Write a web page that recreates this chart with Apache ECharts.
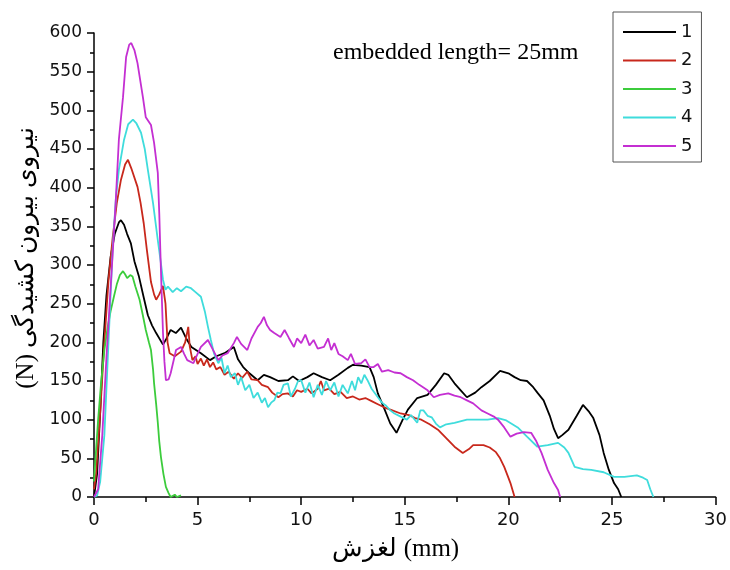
<!DOCTYPE html>
<html>
<head>
<meta charset="utf-8">
<script src="https://cdn.jsdelivr.net/npm/echarts@6/dist/echarts.min.js"></script>
<style>html,body{margin:0;padding:0;background:#fff;}#c{width:730px;height:570px;}</style>
</head>
<body>
<div id="c"></div>
<script>
const seriesNames = ['1', '2', '3', '4', '5'];
const xTicks = [0, 5, 10, 15, 20, 25, 30];
const yTicks = [0, 50, 100, 150, 200, 250, 300, 350, 400, 450, 500, 550, 600];
const xTitle = 'لغزش (mm)';
const yTitle = '(N) نیروی بیرون کشیدگی';
const note = 'embedded length= 25mm';

const s1 = [[0,0],[0.15,30],[0.3,110],[0.45,200],[0.6,260],[0.8,310],[1.0,340],[1.2,355],[1.3,358],[1.45,352],[1.6,340],[1.78,328],[1.95,305],[2.17,285],[2.4,258],[2.6,235],[2.8,222],[3.0,212],[3.33,197],[3.5,205],[3.7,216],[3.95,212],[4.2,219],[4.45,205],[4.7,194],[5.16,186],[5.6,177],[5.9,182],[6.3,186],[6.75,194],[6.95,178],[7.2,168],[7.5,160],[7.9,151],[8.2,158],[8.5,155],[8.9,150],[9.36,151],[9.6,156],[9.9,150],[10.3,155],[10.6,160],[11.0,155],[11.4,151],[11.8,158],[12.25,167],[12.5,171],[12.9,170],[13.3,168],[13.5,155],[13.7,134],[14.0,115],[14.3,95],[14.6,83],[14.9,100],[15.15,113],[15.6,128],[16.1,132],[16.5,145],[16.9,160],[17.1,158],[17.4,147],[17.7,138],[18.0,129],[18.4,135],[18.7,142],[19.1,150],[19.6,163],[20.0,160],[20.3,155],[20.6,151],[20.9,150],[21.2,142],[21.4,135],[21.7,125],[22.0,105],[22.2,88],[22.4,76],[22.6,80],[22.9,87],[23.3,105],[23.6,119],[23.9,110],[24.1,102],[24.4,80],[24.6,57],[24.85,35],[25.1,18],[25.3,10],[25.45,0]];

const s2 = [[0,10],[0.1,30],[0.3,110],[0.5,200],[0.7,280],[0.9,335],[1.1,380],[1.3,410],[1.5,430],[1.64,436],[1.8,425],[2.1,401],[2.25,380],[2.4,354],[2.55,320],[2.75,278],[2.9,262],[3.0,255],[3.15,262],[3.33,273],[3.45,250],[3.55,200],[3.65,186],[3.9,182],[4.2,188],[4.4,200],[4.55,220],[4.62,195],[4.75,177],[4.9,182],[5.0,172],[5.16,179],[5.3,170],[5.45,178],[5.6,168],[5.75,174],[5.9,165],[6.1,168],[6.3,158],[6.5,162],[6.75,153],[6.95,160],[7.15,154],[7.4,162],[7.6,152],[7.9,151],[8.1,145],[8.4,142],[8.6,135],[8.9,129],[9.1,133],[9.35,134],[9.6,130],[9.8,138],[10.0,136],[10.3,140],[10.5,134],[10.8,140],[10.95,150],[11.1,138],[11.35,140],[11.6,133],[11.9,136],[12.2,128],[12.5,130],[12.8,126],[13.1,128],[13.4,124],[13.7,120],[14.0,116],[14.4,112],[14.8,108],[15.2,106],[15.5,102],[15.8,100],[16.2,94],[16.6,87],[17.0,76],[17.4,65],[17.8,57],[18.1,62],[18.3,67],[18.8,67],[19.1,64],[19.4,58],[19.6,50],[19.8,39],[20.0,25],[20.1,18],[20.3,0]];

const s3 = [[0,20],[0.1,61],[0.2,100],[0.34,147],[0.5,190],[0.66,220],[0.8,240],[0.96,259],[1.1,275],[1.25,287],[1.4,292],[1.5,288],[1.6,283],[1.75,287],[1.86,285],[2.0,272],[2.2,255],[2.35,236],[2.5,216],[2.65,200],[2.75,190],[2.85,165],[2.9,147],[3.0,120],[3.08,96],[3.15,72],[3.23,52],[3.35,30],[3.47,13],[3.6,5],[3.7,0],[3.9,3],[4.0,0],[4.2,2]];

const s4 = [[0,0],[0.15,2],[0.3,20],[0.5,80],[0.7,200],[0.9,320],[1.06,388],[1.2,423],[1.45,462],[1.65,482],[1.88,488],[2.05,483],[2.27,471],[2.45,450],[2.6,423],[2.85,380],[3.08,332],[3.23,302],[3.33,281],[3.45,268],[3.57,272],[3.8,265],[4.0,270],[4.2,266],[4.45,272],[4.68,270],[4.9,265],[5.16,259],[5.35,240],[5.5,220],[5.64,203],[5.8,185],[6.0,173],[6.15,180],[6.3,160],[6.45,170],[6.6,155],[6.8,160],[6.95,145],[7.1,155],[7.3,138],[7.5,145],[7.7,128],[7.9,135],[8.1,122],[8.25,128],[8.4,116],[8.55,122],[8.7,125],[8.85,135],[9.0,134],[9.15,145],[9.36,147],[9.5,130],[9.7,140],[9.85,150],[10.0,151],[10.2,135],[10.4,148],[10.6,129],[10.8,145],[11.0,132],[11.2,150],[11.4,138],[11.6,148],[11.8,130],[12.0,145],[12.25,134],[12.45,150],[12.6,138],[12.75,155],[12.9,147],[13.05,158],[13.2,151],[13.4,140],[13.7,129],[13.9,122],[14.1,118],[14.3,112],[14.5,108],[14.8,104],[15.1,100],[15.3,106],[15.6,96],[15.75,112],[15.9,112],[16.1,105],[16.3,103],[16.5,95],[16.7,90],[17.0,94],[17.4,96],[18.0,100],[18.5,100],[19.0,100],[19.5,102],[19.9,99],[20.45,90],[20.9,78],[21.4,65],[21.9,67],[22.4,70],[22.7,64],[22.9,57],[23.05,48],[23.2,39],[23.6,36],[24.0,35],[24.6,32],[25.1,26],[25.6,26],[26.2,28],[26.5,25],[26.7,22],[26.85,10],[27.0,0]];

const s5 = [[0,0],[0.2,10],[0.4,80],[0.6,180],[0.8,270],[0.92,323],[1.06,388],[1.2,462],[1.4,517],[1.55,569],[1.7,585],[1.8,587],[1.95,578],[2.1,561],[2.36,517],[2.5,491],[2.75,481],[2.9,458],[3.08,419],[3.15,367],[3.2,320],[3.25,277],[3.33,212],[3.4,175],[3.47,151],[3.6,152],[3.7,160],[3.96,190],[4.2,194],[4.35,185],[4.5,177],[4.8,173],[5.0,185],[5.16,194],[5.5,203],[5.75,190],[6.0,177],[6.2,183],[6.45,186],[6.75,199],[6.9,207],[7.1,198],[7.4,190],[7.6,205],[7.9,220],[8.05,225],[8.2,233],[8.35,222],[8.5,216],[8.7,212],[9.0,207],[9.2,216],[9.4,206],[9.65,194],[9.8,205],[10.0,199],[10.2,210],[10.4,196],[10.6,203],[10.8,192],[11.1,194],[11.3,205],[11.45,190],[11.6,199],[11.8,185],[12.0,182],[12.25,177],[12.4,185],[12.6,172],[12.9,173],[13.1,178],[13.3,168],[13.5,168],[13.7,172],[13.9,162],[14.2,164],[14.5,161],[14.8,160],[15.1,155],[15.4,151],[15.7,145],[16.1,138],[16.4,129],[16.7,132],[17.1,134],[17.4,131],[17.7,129],[18.0,125],[18.3,121],[18.7,112],[19.0,108],[19.3,104],[19.5,100],[19.8,90],[20.1,78],[20.4,82],[20.75,84],[21.1,83],[21.35,72],[21.6,57],[21.9,35],[22.2,18],[22.4,9],[22.5,0]];

const colors = ['#000000', '#c8281c', '#3ccc3c', '#3fdcdc', '#c42fd2'];
const allData = [s1, s2, s3, s4, s5];

const chart = echarts.init(document.getElementById('c'), null, {renderer: 'canvas'});
const option = {
  animation: false,
  backgroundColor: '#ffffff',
  grid: {left: 94, right: 13.5, top: 33, bottom: 73, containLabel: false},
  legend: {
    orient: 'vertical',
    left: 613, top: 12,
    padding: [11, 9, 7, 10],
    borderColor: '#555',
    borderWidth: 1,
    itemWidth: 53,
    itemHeight: 2,
    itemGap: 10.5,
    icon: 'rect',
    data: seriesNames,
    textStyle: {fontFamily: 'DejaVu Sans', fontSize: 18, color: '#111', lineHeight: 18}
  },
  xAxis: {
    type: 'value', min: xTicks[0], max: xTicks[xTicks.length - 1], interval: 5,
    name: xTitle, nameLocation: 'middle', nameGap: 40,
    nameTextStyle: {fontFamily: 'Liberation Serif', fontSize: 25, color: '#000', padding: [0, 18, 0, 0]},
    axisLine: {show: true, lineStyle: {color: '#000', width: 1.5}},
    axisTick: {show: true, inside: false, length: 8, lineStyle: {color: '#000', width: 1.5}},
    minorTick: {show: true, splitNumber: 2, length: 5, lineStyle: {color: '#000', width: 1.5}},
    axisLabel: {fontFamily: 'DejaVu Sans', fontSize: 18, color: '#111', margin: 14},
    splitLine: {show: false}
  },
  yAxis: {
    type: 'value', min: yTicks[0], max: yTicks[yTicks.length - 1], interval: 50,
    name: yTitle, nameLocation: 'middle', nameGap: 55, nameRotate: 90,
    nameTextStyle: {fontFamily: 'Liberation Serif', fontSize: 25, color: '#000', padding: [0, 0, 0, 14]},
    axisLine: {show: true, lineStyle: {color: '#000', width: 1.5}},
    axisTick: {show: true, inside: false, length: 7, lineStyle: {color: '#000', width: 1.5}},
    minorTick: {show: true, splitNumber: 2, length: 4, lineStyle: {color: '#000', width: 1.5}},
    axisLabel: {fontFamily: 'DejaVu Sans', fontSize: 17, color: '#111', margin: 12},
    splitLine: {show: false}
  },
  graphic: [{
    type: 'text', left: 333, top: 41,
    style: {text: note, fontFamily: 'Liberation Serif', fontSize: 24, fill: '#000'}
  }],
  series: allData.map((d, i) => ({
    name: seriesNames[i],
    type: 'line',
    data: d,
    showSymbol: false,
    symbol: 'none',
    smooth: false,
    color: colors[i],
    lineStyle: {color: colors[i], width: 1.8},
    z: 2 + i
  }))
};
chart.setOption(option);
</script>
</body>
</html>
